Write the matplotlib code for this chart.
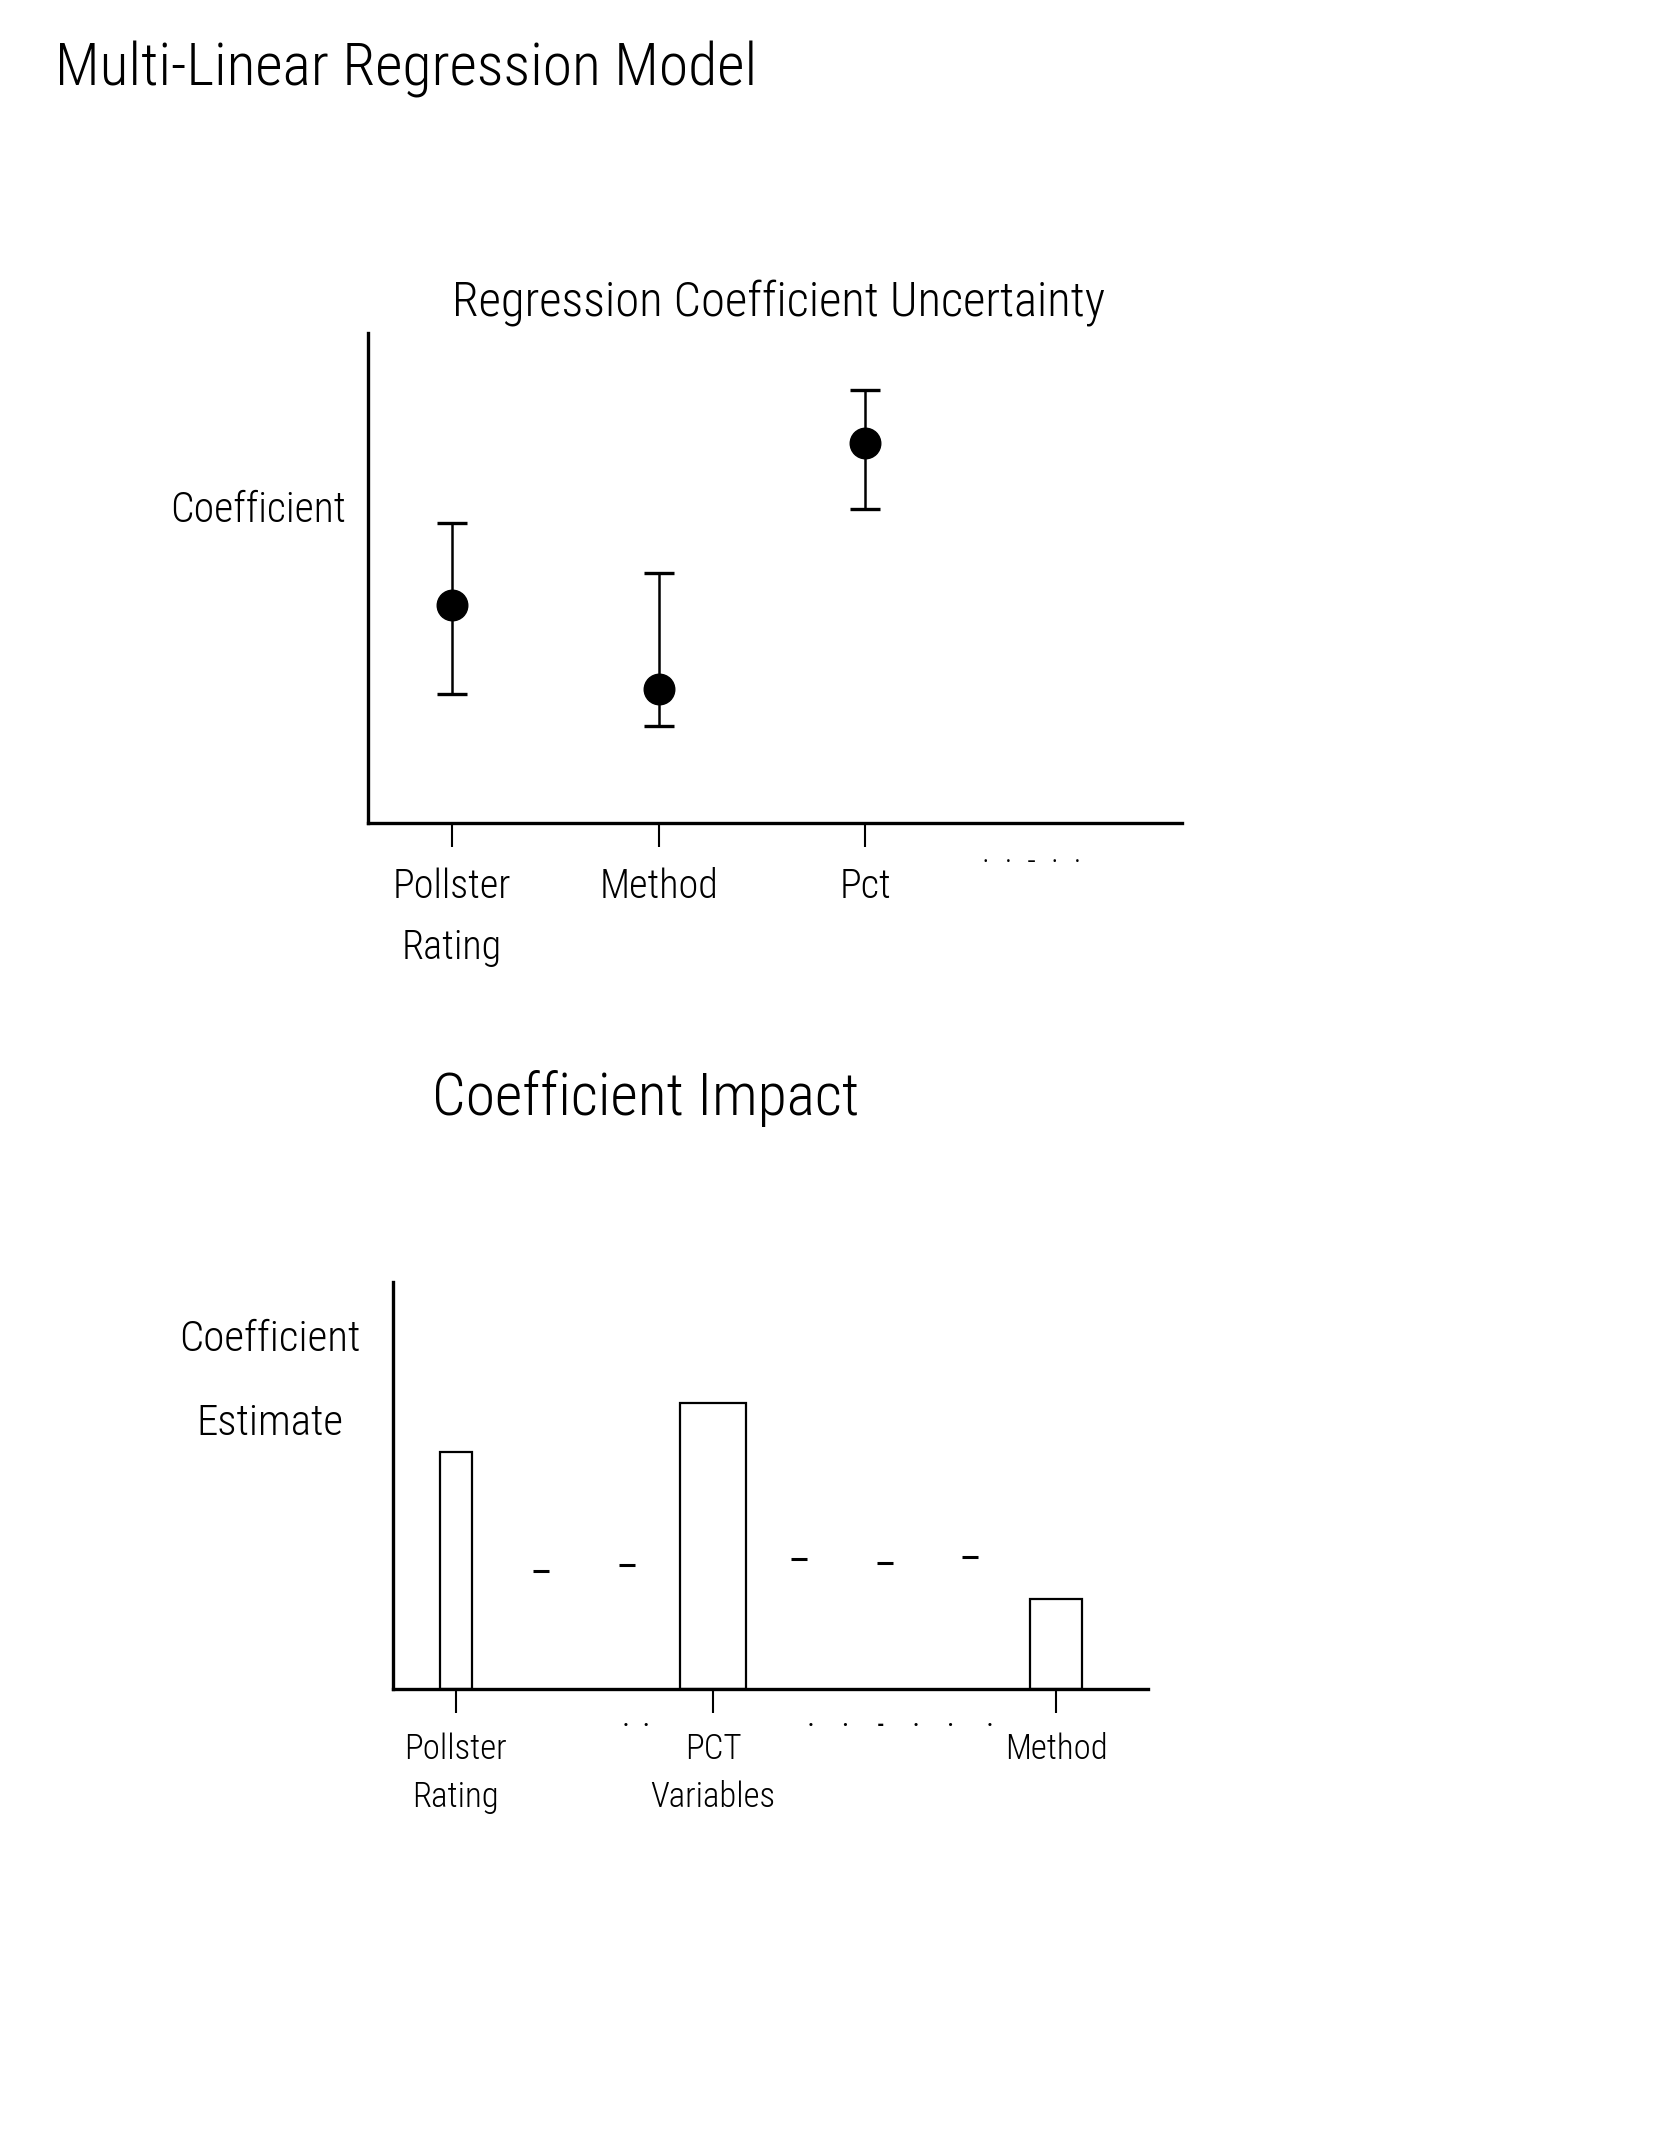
import numpy as np
import matplotlib
matplotlib.use("Agg")
import matplotlib.pyplot as plt
import matplotlib.transforms as mtransforms

plt.rcParams['font.family'] = ['Roboto Condensed', 'Liberation Sans Narrow', 'DejaVu Sans']
plt.rcParams['font.weight'] = 'light'
plt.rcParams['axes.labelweight'] = 'light'

# ---------------- data ----------------
main_title = "Multi-Linear Regression Model"

unc_title = "Regression Coefficient Uncertainty"
unc_ylabel = "Coefficient"
unc_categories = ["Pollster\nRating", "Method", "Pct"]
unc_coef = [44.5, 27.3, 77.6]
unc_lower = [26.3, 19.8, 64.1]
unc_upper = [61.2, 51.0, 88.4]
unc_more = "·  ·  -  ·  ·"

imp_title = "Coefficient Impact"
imp_ylabel = "Coefficient\nEstimate"
imp_variables = ["Pollster\nRating", "", "", "PCT\nVariables", "", "", "", "Method"]
imp_estimates = [58.3, 29.0, 30.5, 70.2, 32.0, 31.0, 32.5, 22.2]
imp_shown = [True, False, False, True, False, False, False, True]

W, H = 1668, 2154
fig = plt.figure(figsize=(W / 100, H / 100), dpi=100)
fig.patch.set_facecolor("white")

fig.text(55 / W, 1 - 70 / H, main_title, ha="left", va="center", fontsize=43,
         color="black", fontweight="light")

# ---------------- chart 1 ----------------
ax1 = fig.add_axes([368 / W, 1 - 823 / H, (1182 - 368) / W, (823 - 333) / H])
x1 = np.arange(len(unc_categories))
coef = np.array(unc_coef)
yerr = np.vstack([coef - np.array(unc_lower), np.array(unc_upper) - coef])
ax1.errorbar(x1, coef, yerr=yerr, fmt="o", color="black", markersize=22,
             elinewidth=1.8, capsize=11, capthick=2.4)
ax1.set_xlim(-0.406, 3.531)
ax1.set_ylim(0, 100)
ax1.set_xticks(x1)
ax1.set_xticklabels(unc_categories, fontsize=29, linespacing=1.75)
ax1.set_yticks([])
for s in ["top", "right"]:
    ax1.spines[s].set_visible(False)
for s in ["left", "bottom"]:
    ax1.spines[s].set_linewidth(2.4)
ax1.tick_params(axis="x", direction="out", length=17, width=1.5, pad=15)
ax1.text(0.815, -0.082, unc_more, transform=ax1.transAxes, ha="center", va="center",
         fontsize=24, color="black")
ax1.text(0.504, 1.062, unc_title, transform=ax1.transAxes, ha="center", va="center",
         fontsize=35, color="black")
ax1.set_ylabel(unc_ylabel, rotation=0, ha="center", va="center", fontsize=30)
ax1.yaxis.set_label_coords(-0.135, 0.637)

# ---------------- chart 2 ----------------
ax2 = fig.add_axes([393 / W, 1 - 1689 / H, (1148 - 393) / W, (1689 - 1282) / H])
x2 = np.arange(len(imp_variables))
est = np.array(imp_estimates)
shown = np.array(imp_shown)
ax2.bar(x2[shown], est[shown], width=[0.37, 0.76, 0.6], facecolor="white",
        edgecolor="black", linewidth=1.6)
ax2.plot(x2[~shown], est[~shown], linestyle="none", marker="_", markersize=12,
         markeredgewidth=2.2, color="black")
ax2.set_xlim(-0.73, 8.07)
ax2.set_ylim(0, 100)
ax2.set_xticks(x2[shown])
ax2.set_xticklabels([v for v, s in zip(imp_variables, imp_shown) if s], fontsize=25,
                    linespacing=1.55)
ax2.set_yticks([])
for s in ["top", "right"]:
    ax2.spines[s].set_visible(False)
for s in ["left", "bottom"]:
    ax2.spines[s].set_linewidth(2.4)
ax2.tick_params(axis="x", direction="out", length=17, width=1.5, pad=14)
trans = mtransforms.blended_transform_factory(ax2.transData, ax2.transAxes)
dot_kw = dict(transform=trans, ha="center", va="center", fontsize=15, fontweight="bold")
ax2.text(2.1, -0.09, "·   ·", **dot_kw)
ax2.text(4.95, -0.09, "·      ·      -      ·      ·", **dot_kw)
ax2.text(6.22, -0.09, "·", **dot_kw)
ax2.text(0.335, 1.45, imp_title, transform=ax2.transAxes, ha="center", va="center",
         fontsize=43, color="black")
ax2.set_ylabel(imp_ylabel, rotation=0, ha="center", va="center", fontsize=31,
               linespacing=2.35)
ax2.yaxis.set_label_coords(-0.163, 0.755)

fig.savefig("out.png", dpi=100, facecolor="white")
